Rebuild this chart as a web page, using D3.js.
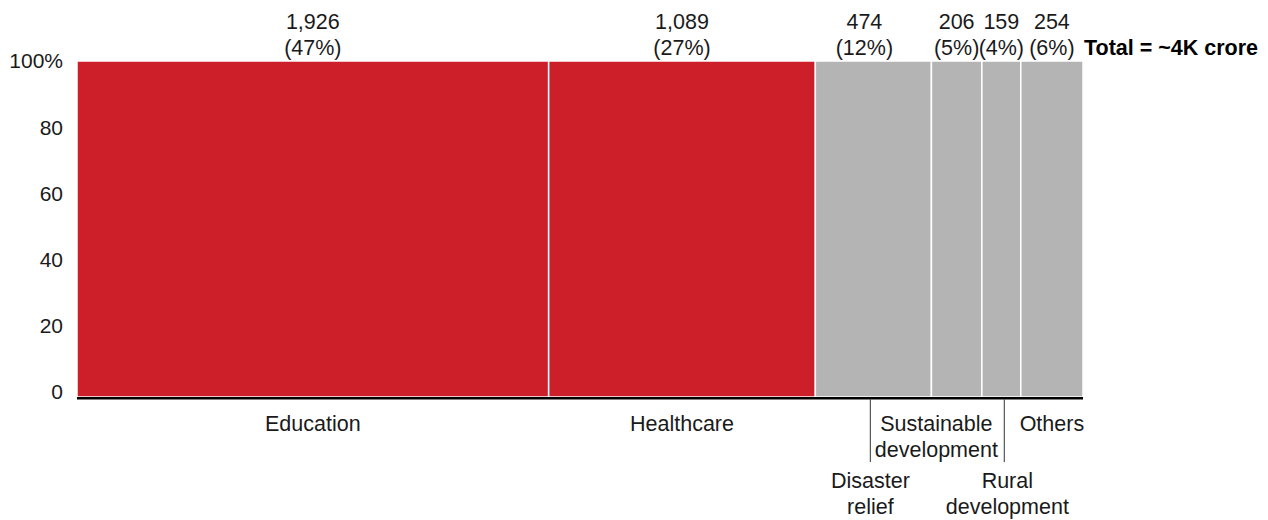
<!DOCTYPE html>
<html>
<head>
<meta charset="utf-8">
<script src="https://cdn.jsdelivr.net/npm/d3@7"></script>
<style>
  body { margin: 0; background: #fff; }
  svg text { font-family: "Liberation Sans", Arial, sans-serif; fill: #1a1a1a; }
</style>
</head>
<body>
<div id="chart"></div>
<script>
// spending by cause (crore)
var categories = ["Education", "Healthcare", "Disaster relief", "Sustainable development", "Rural development", "Others"];
var values = [1926, 1089, 474, 206, 159, 254];
var shares = [47, 27, 12, 5, 4, 6];
var highlight = [true, true, false, false, false, false];
var yTicks = [0, 20, 40, 60, 80, 100];
var totalLabel = "Total = ~4K crore";

var W = 1268, H = 520;
var margin = {left: 77, right: 185, top: 61, bottom: 123};
var fs = 21.5;

var svg = d3.select("#chart").append("svg")
    .attr("width", W).attr("height", H);

var total = d3.sum(values);
var cum = 0;
var segs = values.map(function(v, i){
    var s = {name: categories[i], value: v, share: shares[i], hi: highlight[i], x0: cum, x1: cum + v, i: i};
    cum += v;
    return s;
});

var x = d3.scaleLinear().domain([0, total]).range([margin.left, W - margin.right]);
var y = d3.scaleLinear().domain([0, 100]).range([H - margin.bottom, margin.top]);
// tick labels sit a little higher than the gridline positions in the original
var yLab = d3.scaleLinear().domain([0, 100]).range([H - margin.bottom - 5, margin.top]);

// bars
svg.selectAll(".seg").data(segs).enter().append("rect")
    .attr("class", "seg")
    .attr("x", function(d){ return x(d.x0); })
    .attr("width", function(d){ return x(d.x1) - x(d.x0); })
    .attr("y", y(100))
    .attr("height", y(0) - y(100))
    .attr("fill", function(d){ return d.hi ? "#cc1f29" : "#b3b4b3"; })
    .attr("stroke", "#fff")
    .attr("stroke-width", 1.5);

// baseline
svg.append("line")
    .attr("x1", x(0)).attr("x2", x(total))
    .attr("y1", y(0) + 1.3).attr("y2", y(0) + 1.3)
    .attr("stroke", "#000").attr("stroke-width", 2.6);

// y tick labels
svg.selectAll(".ytick").data(yTicks).enter().append("text")
    .attr("class", "ytick")
    .attr("x", 63)
    .attr("y", function(d){ return yLab(d); })
    .attr("dy", "0.35em")
    .attr("text-anchor", "end")
    .attr("font-size", 21)
    .text(function(d){ return d === 100 ? "100%" : d; });

// value labels on top
var fmt = d3.format(",");
function topX(d){ return (x(d.x0) + x(d.x1)) / 2 - (d.i === 2 ? 9 : 0); }
var topLabs = svg.selectAll(".toplab").data(segs).enter().append("text")
    .attr("class", "toplab")
    .attr("text-anchor", "middle")
    .attr("font-size", fs);
topLabs.append("tspan")
    .attr("x", topX)
    .attr("y", 21).attr("dy", "0.35em")
    .text(function(d){ return fmt(d.value); });
topLabs.append("tspan")
    .attr("x", topX)
    .attr("y", 47).attr("dy", "0.35em")
    .text(function(d){ return "(" + d.share + "%)"; });

svg.append("text")
    .attr("x", x(total) + 1)
    .attr("y", 47).attr("dy", "0.35em")
    .attr("font-size", fs)
    .attr("font-weight", "bold")
    .style("fill", "#000")
    .text(totalLabel);

// category labels: narrow ones drop to a second row with a leader line
var lowRow = {2: true, 4: true};
function cx(d){ return (x(d.x0) + x(d.x1)) / 2; }
function labelX(d){
    if (lowRow[d.i]) return cx(d) + (d.i === 2 ? -3 : 3);
    if (d.i === 3) return (cx(segs[2]) + cx(segs[4])) / 2 - 1;
    return cx(d);
}

svg.selectAll(".leader").data(segs.filter(function(d){ return lowRow[d.i]; })).enter().append("line")
    .attr("class", "leader")
    .attr("x1", function(d){ return labelX(d); })
    .attr("x2", function(d){ return labelX(d); })
    .attr("y1", y(0) + 2).attr("y2", 462)
    .attr("stroke", "#555").attr("stroke-width", 1.2);

var wrapWords = {
    "Disaster relief": ["Disaster", "relief"],
    "Sustainable development": ["Sustainable", "development"],
    "Rural development": ["Rural", "development"]
};
var cat = svg.selectAll(".cat").data(segs).enter().append("text")
    .attr("class", "cat")
    .attr("text-anchor", "middle")
    .attr("font-size", fs);
cat.each(function(d){
    var lines = wrapWords[d.name] || [d.name];
    var y0 = lowRow[d.i] ? 480 : 423;
    var t = d3.select(this);
    lines.forEach(function(l, k){
        t.append("tspan")
            .attr("x", labelX(d) + (d.i === 4 ? 3 : 0))
            .attr("y", y0 + k * 26.5)
            .attr("dy", "0.35em")
            .text(l);
    });
});
</script>
</body>
</html>
